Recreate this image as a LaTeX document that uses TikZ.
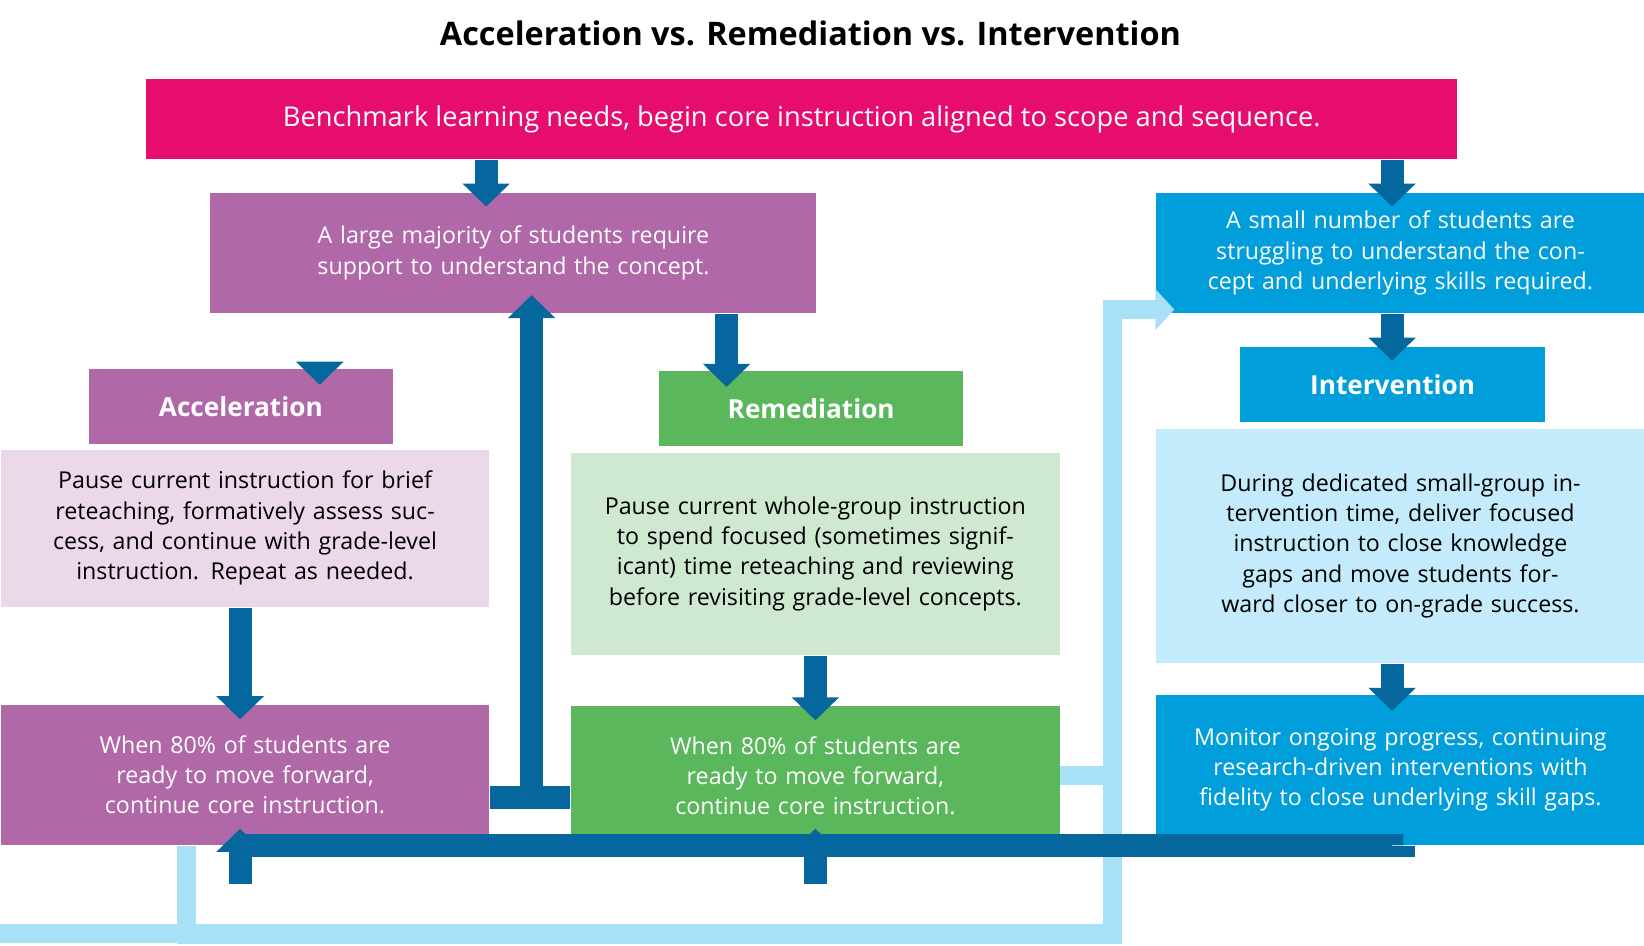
\documentclass[tikz,border=0pt]{standalone}
\usepackage{fontspec}
\setmainfont{Open Sans}
\usetikzlibrary{arrows.meta,positioning}
\definecolor{pinkc}{HTML}{E60D6E}
\definecolor{purc}{HTML}{B168A8}
\definecolor{purl}{HTML}{EBD8E9}
\definecolor{grnc}{HTML}{5BB75C}
\definecolor{grnl}{HTML}{CFE8D0}
\definecolor{bluc}{HTML}{009EDA}
\definecolor{blul}{HTML}{C3EBFB}
\definecolor{darkb}{HTML}{05679E}
\definecolor{skyb}{HTML}{A8E0F8}
\tikzset{
  box/.style = {anchor = north west, inner sep = 0pt, align = center,
    font = \fontsize{6.3pt}{8.2pt}\selectfont},
  head/.style = {box, text = white, font = \bfseries\fontsize{7.1pt}{8.5pt}\selectfont},
  arr/.style = {darkb, line width = 0.22cm,
    -{Triangle[width = 0.44cm, length = 0.22cm]}},
  flow/.style = {darkb, line width = 0.22cm},
  back/.style = {skyb, line width = 0.18cm}
}
\begin{document}
\begin{tikzpicture}
\useasboundingbox (0, 0) rectangle (15.68, -9.02);
\node (title) at (7.73, -0.32) {\bfseries\fontsize{8.8pt}{10pt}\selectfont Acceleration vs. Remediation vs. Intervention};
\node (bench) [box, fill = pinkc, text = white, minimum width = 12.5cm, minimum height = 0.76cm,
  font = \fontsize{7.4pt}{9pt}\selectfont] at (1.39, -0.75)
  {Benchmark learning needs, begin core instruction aligned to scope and sequence.};
\node (major) [box, fill = purc, text = white, minimum width = 5.78cm, minimum height = 1.15cm,
  text width = 5.5cm] at (2.00, -1.83)
  {A large majority of students require support to understand the concept.};
\node (small) [box, fill = bluc, text = white, minimum width = 4.66cm, minimum height = 1.15cm,
  text width = 4.5cm] at (11.02, -1.83)
  {A small number of students are struggling to understand the concept and underlying skills required.};
\node (accel) [head, fill = purc, minimum width = 2.9cm, minimum height = 0.72cm] at (0.84, -3.51) {Acceleration};
\node (remed) [head, fill = grnc, minimum width = 2.9cm, minimum height = 0.72cm] at (6.28, -3.53) {Remediation};
\node (inter) [head, fill = bluc, minimum width = 2.91cm, minimum height = 0.72cm] at (11.82, -3.30) {Intervention};
\node (acctx) [box, fill = purl, minimum width = 4.66cm, minimum height = 1.5cm,
  text width = 4.2cm] at (0, -4.28)
  {Pause current instruction for brief reteaching, formatively assess success, and continue with grade-level instruction. Repeat as needed.};
\node (remtx) [box, fill = grnl, minimum width = 4.66cm, minimum height = 1.93cm,
  text width = 4.4cm] at (5.44, -4.31)
  {Pause current whole-group instruction to spend focused (sometimes significant) time reteaching and reviewing before revisiting grade-level concepts.};
\node (inttx) [box, fill = blul, minimum width = 4.66cm, minimum height = 2.24cm,
  text width = 4.2cm] at (11.02, -4.08)
  {During dedicated small-group intervention time, deliver focused instruction to close knowledge gaps and move students forward closer to on-grade success.};
\node (accbt) [box, fill = purc, text = white, minimum width = 4.66cm, minimum height = 1.33cm,
  text width = 4.1cm] at (0, -6.72)
  {When 80\% of students are ready to move forward, continue core instruction.};
\node (rembt) [box, fill = grnc, text = white, minimum width = 4.66cm, minimum height = 1.32cm,
  text width = 4.1cm] at (5.44, -6.73)
  {When 80\% of students are ready to move forward, continue core instruction.};
\node (monit) [box, fill = bluc, text = white, minimum width = 4.66cm, minimum height = 1.43cm,
  text width = 4.4cm] at (11.02, -6.62)
  {Monitor ongoing progress, continuing research-driven interventions with fidelity to close underlying skill gaps.};
% light return path
\coordinate (jn) at ([xshift = 0.5cm]rembt.east);
\draw[back] (rembt.east) -- (jn);
\draw[back, -{Triangle[width = 0.38cm, length = 0.18cm]}]
  ([xshift = -0.56cm]accbt.south) |- (0, -8.9) -| ([xshift = 0.5cm]rembt.east |- 0, -8.9)
  |- ([yshift = -0.54cm, xshift = 0.18cm]small.west);
\draw[back] ([xshift = -0.56cm]accbt.south) -- ++(0, -0.85) -| ([xshift = 0.5cm]rembt.south east) |- ([yshift = -0.54cm]small.west);
% down arrows
\draw[arr] ([xshift = -0.26cm]major.north |- bench.south) -- ([xshift = -0.26cm, yshift = -0.14cm]major.north);
\draw[arr] ([xshift = -0.08cm]small.north |- bench.south) -- ([xshift = -0.08cm, yshift = -0.14cm]small.north);
\draw[arr] (accel.north -| 3.05, 0) -- ([yshift = -0.16cm]accel.north -| 3.05, 0);
\draw[arr] (major.south -| 6.93, 0) -- ([yshift = -0.16cm]remed.north -| 6.93, 0);
\draw[arr] ([xshift = -0.08cm]small.south) -- ([xshift = -0.08cm, yshift = -0.14cm]small.south |- inter.north);
\draw[arr] (acctx.south -| 2.29, 0) -- ([yshift = -0.14cm]accbt.north -| 2.29, 0);
\draw[arr] (remtx.south) -- ([yshift = -0.14cm]rembt.north);
\draw[arr] ([xshift = -0.08cm]inttx.south) -- ([xshift = -0.08cm, yshift = -0.16cm]monit.north);
% return to majority
\coordinate (mid) at (5.07, -7.61);
\draw[flow] (accbt.east |- mid) -- (rembt.west |- mid);
\draw[arr] (mid) -- ([yshift = 0.18cm]major.south -| mid);
% return from monitor
\coordinate (low) at (0, -8.43);
\draw[flow] ([xshift = 0.03cm]monit.south) |- (accbt.south -| 2.29, -8.43);
\draw[arr] (2.29, -8.43) -- ([yshift = 0.16cm]accbt.south -| 2.29, 0);
\draw[arr] (rembt.south |- low) -- ([yshift = 0.16cm]rembt.south);
\end{tikzpicture}
\end{document}
